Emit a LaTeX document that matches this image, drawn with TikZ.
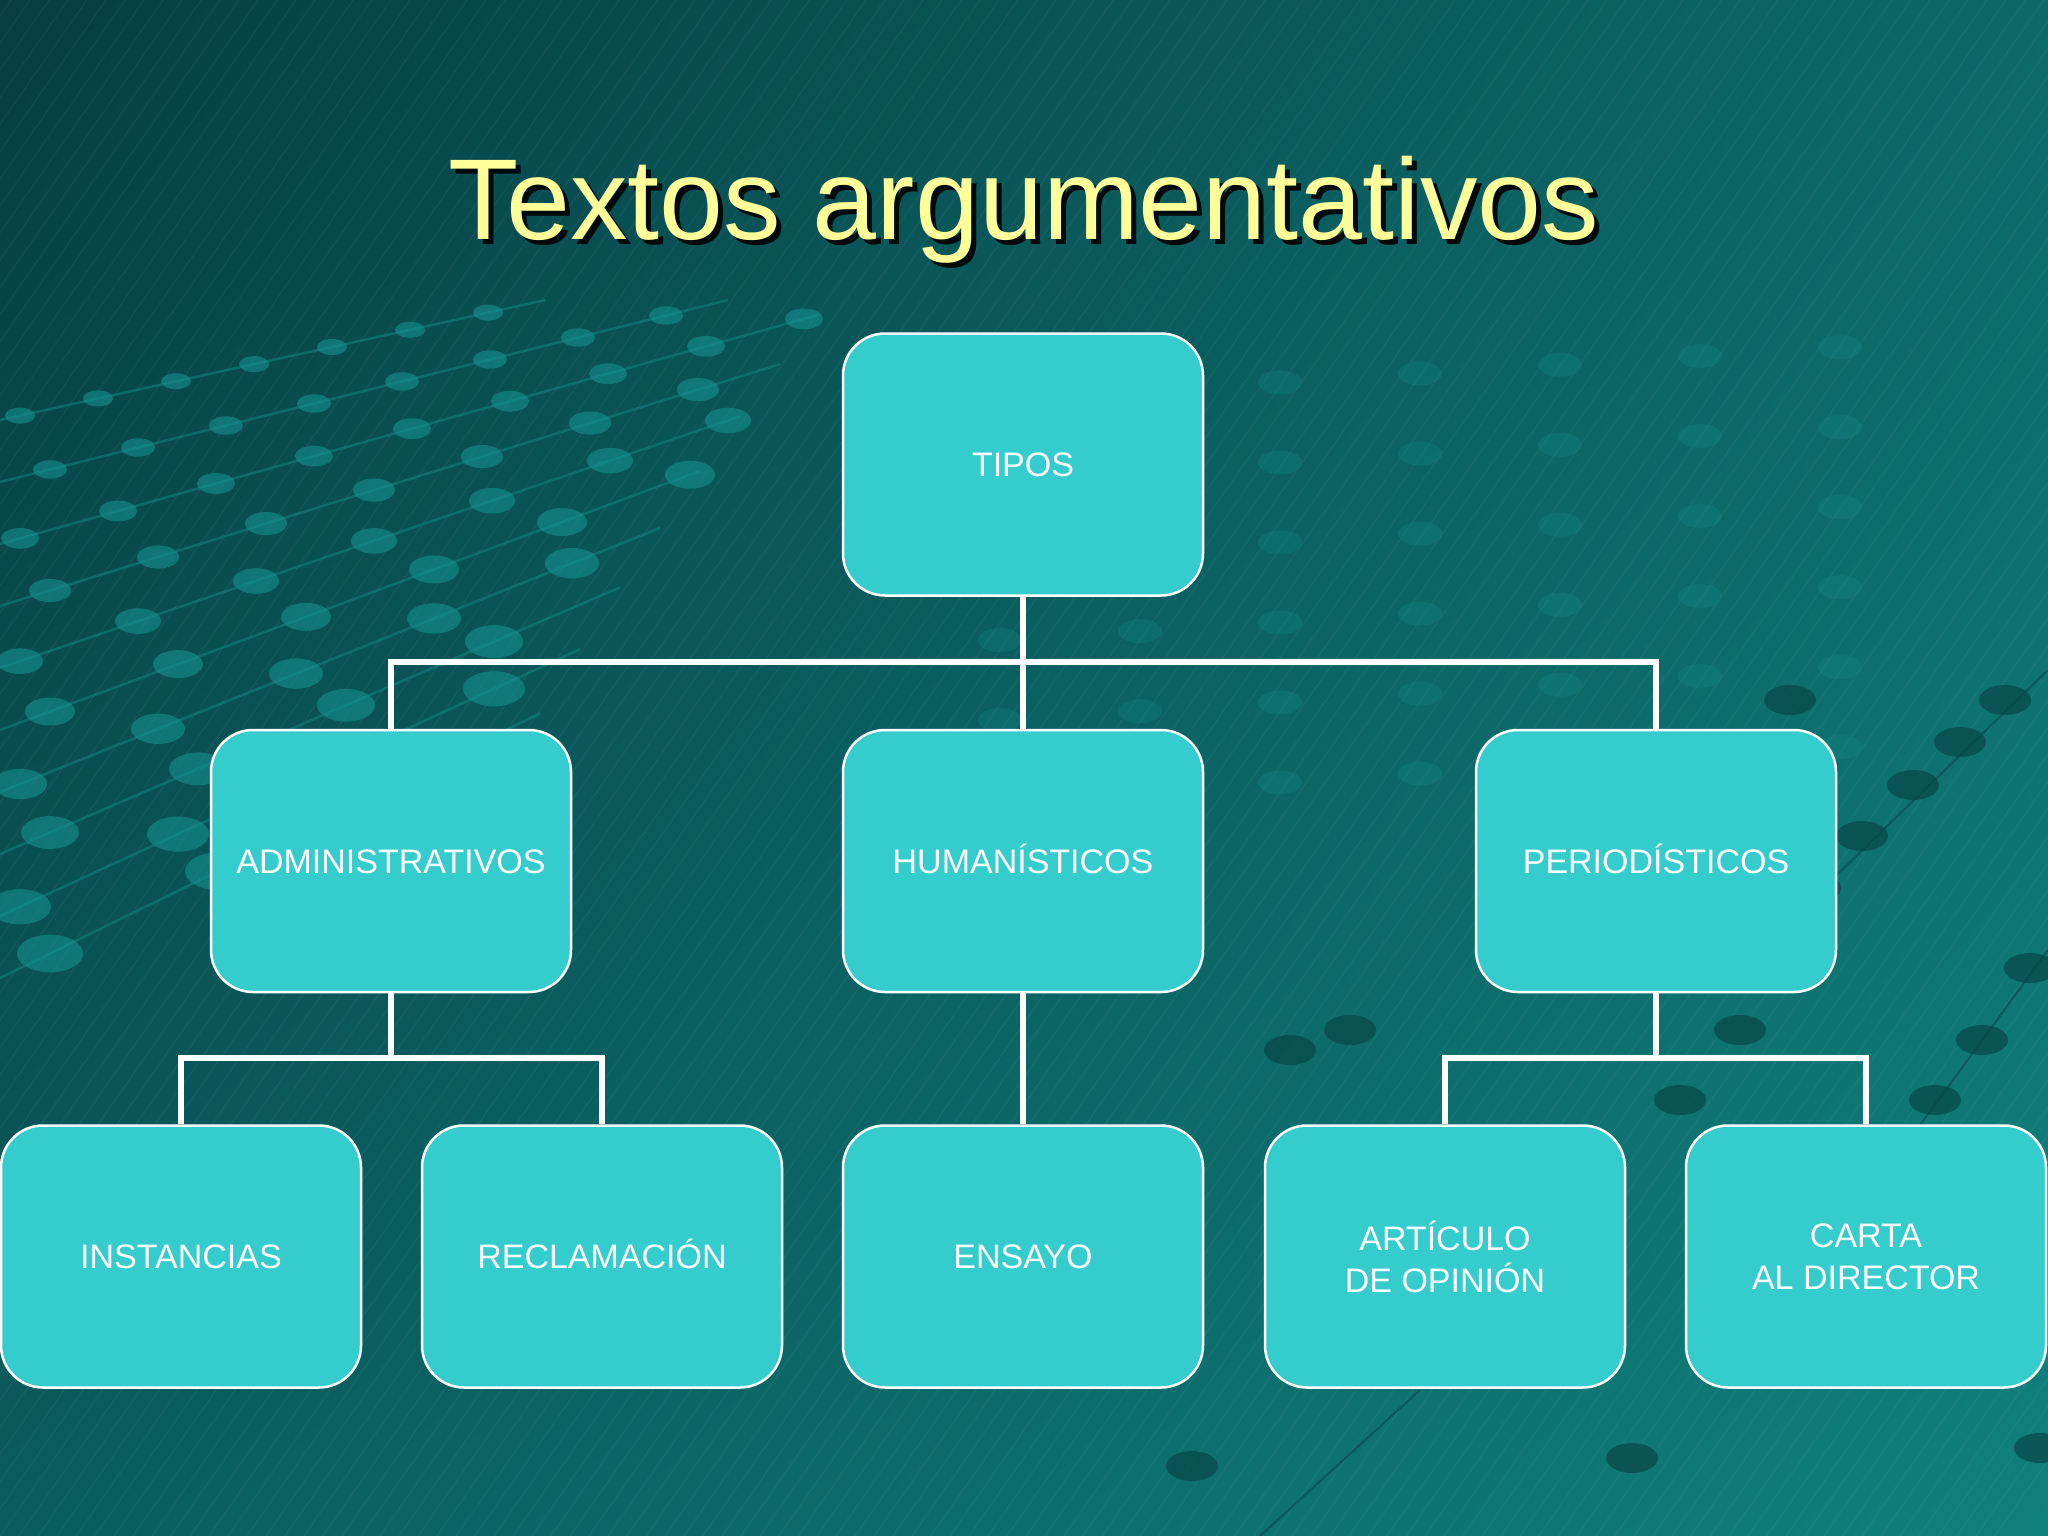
\documentclass[tikz,border=0pt]{standalone}
\usepackage{fontspec}
\setmainfont{Liberation Sans}
\usetikzlibrary{shadings}
\definecolor{boxfill}{RGB}{52,204,204}
\definecolor{titleyel}{RGB}{255,255,153}
\definecolor{bgtl}{RGB}{6,62,68}
\definecolor{bgtr}{RGB}{12,105,104}
\definecolor{bgbl}{RGB}{10,92,94}
\definecolor{bgbr}{RGB}{16,128,124}
\definecolor{dotc}{RGB}{22,145,142}
\definecolor{dotdark}{RGB}{8,70,74}
\newcommand{\shadowtext}[1]{\makebox[0pt][l]{\hspace{5pt}\raisebox{-5pt}{\color{black!85!bgtl}#1}}#1}
\begin{document}
\begin{tikzpicture}[x=1pt,y=-1pt,
  box/.style={draw=white, line width=2.5pt, fill=boxfill, rounded corners=42pt,
    minimum width=360pt, minimum height=262pt, text=white,
    font=\fontsize{34}{42}\selectfont, align=center, inner sep=0pt},
  oneline/.style={text height=24pt, text depth=0pt},
  link/.style={draw=white, line width=5.5pt},
  bgline/.style={draw=white, opacity=0.06, line width=0.8pt},
  dotrow/.style={draw=dotc, opacity=0.45, line width=2.5pt},
  dotfill/.style={fill=dotc, opacity=0.6},
  darkdot/.style={fill=dotdark, opacity=0.7}]
\useasboundingbox (0,0) rectangle (2048,1536);
\shade[upper left=bgtl, upper right=bgtr, lower left=bgbl, lower right=bgbr] (0,0) rectangle (2048,1536);
\begin{scope}
\clip (0,0) rectangle (2048,1536);
% faint diagonal lines
\foreach \i in {-60,...,105} {
  \draw[bgline] (\i*19,1536) -- (\i*19+1075,0);
}
% perspective rows of dots (left cluster)
\foreach \k in {0,...,9} {
  \pgfmathsetmacro{\yo}{420+62*\k}
  \pgfmathsetmacro{\sl}{0.22+0.03*\k}
  \pgfmathsetmacro{\dd}{78+10*\k}
  \pgfmathsetmacro{\xe}{min(900-40*\k,(\yo-300)/\sl)}
  \draw[dotrow] (-10,\yo+10*\sl) -- (\xe,\yo-\xe*\sl);
  \foreach \j in {0,...,12} {
    \pgfmathsetmacro{\xx}{20+\j*\dd+mod(\k,2)*30}
    \ifdim \xx pt<\xe pt
      \fill[dotfill] (\xx,\yo-\xx*\sl) ellipse ({15+2*\k} and {8+1.2*\k});
    \fi
  }
}
% faint dots behind the middle
\foreach \k in {0,...,5} {
  \pgfmathsetmacro{\yo}{520+80*\k}
  \foreach \j in {0,...,6} {
    \pgfmathsetmacro{\xx}{1000+\j*140}
    \fill[fill=dotc, opacity=0.25] (\xx,\yo-\xx*0.12+\j*8) ellipse (22 and 12);
  }
}
% dark dots on the right
\foreach \px/\py in {2005/700, 1960/742, 1913/785, 1862/836, 1815/888,
  2030/968, 1982/1040, 1935/1100, 2040/1448, 1632/1458, 1192/1466,
  1740/1030, 1680/1100, 1290/1050, 1350/1030, 1790/700}
  \fill[darkdot] (\px,\py) ellipse (26 and 15);
\draw[draw=dotdark, opacity=0.6, line width=2pt] (2048,670) -- (1780,930);
\draw[draw=dotdark, opacity=0.6, line width=2pt] (2048,950) -- (1880,1180);
\draw[draw=dotdark, opacity=0.6, line width=2pt] (1260,1536) -- (1420,1390);
\end{scope}

% title with shadow
\node[anchor=base, text=titleyel, font=\fontsize{115}{120}\selectfont] (title) at (1024,239) {\shadowtext{Textos argumentativos}};

% nodes
\coordinate (busA) at (1023,662);
\coordinate (busL) at (391,1058);
\coordinate (busR) at (1656,1058);
\node[box, oneline] (tipos) at (1023,464.5) {TIPOS};
\node[box, oneline] (adm) at (391,861) {ADMINISTRATIVOS};
\node[box, oneline] (hum) at (1023,861) {HUMANÍSTICOS};
\node[box, oneline] (per) at (1656,861) {PERIODÍSTICOS};
\node[box, oneline] (inst) at (181,1256.5) {INSTANCIAS};
\node[box, oneline] (recl) at (602,1256.5) {RECLAMACIÓN};
\node[box, oneline] (ens) at (1023,1256.5) {ENSAYO};
\node[box] (art) at (1445,1256.5) {ARTÍCULO\\DE OPINIÓN};
\node[box] (carta) at (1866,1256.5) {CARTA\\AL DIRECTOR};

% connectors
\draw[link] (tipos.south) -- (hum.north);
\draw[link] (adm.north) |- (busA) -| (per.north);
\draw[link] (adm.south) -- (busL);
\draw[link] (inst.north) |- (busL) -| (recl.north);
\draw[link] (hum.south) -- (ens.north);
\draw[link] (per.south) -- (busR);
\draw[link] (art.north) |- (busR) -| (carta.north);
\end{tikzpicture}
\end{document}
